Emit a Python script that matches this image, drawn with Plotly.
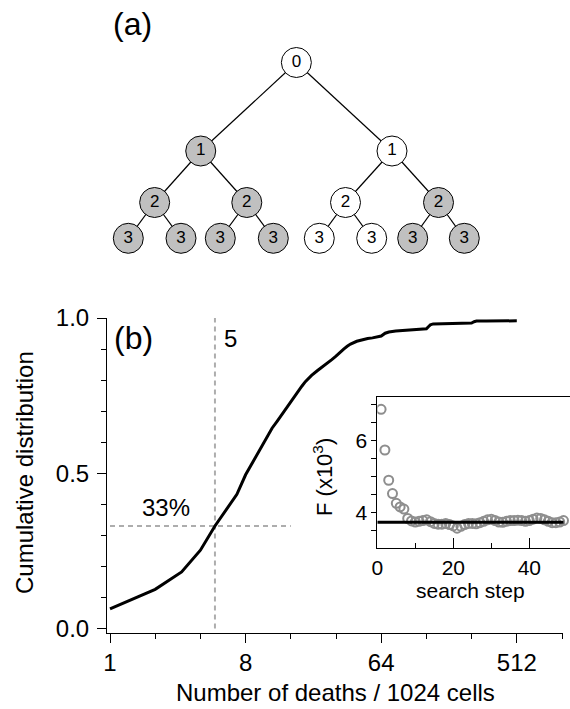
import math
import plotly.graph_objects as go

# ---------------- data ----------------
# (b) cumulative distribution of the number of deaths per 1024 cells
deaths = [1, 2, 3, 4, 5, 6, 7, 8, 9, 10, 11, 12, 13, 14, 15, 16, 17, 18, 19, 20,
          21, 22, 24, 26, 28, 30, 32, 34, 36, 38, 40, 44, 48, 52, 56, 60, 62, 64,
          68, 72, 80, 96, 112, 128, 132, 136, 142, 160, 200, 256, 266, 276, 320,
          400, 512]
cum_frac = [0.063, 0.126, 0.182, 0.252, 0.330, 0.385, 0.432, 0.495, 0.540, 0.580,
            0.615, 0.645, 0.668, 0.690, 0.712, 0.733, 0.750, 0.766, 0.781, 0.795,
            0.807, 0.815, 0.830, 0.844, 0.855, 0.866, 0.877, 0.890, 0.900, 0.909,
            0.916, 0.925, 0.930, 0.934, 0.936, 0.938, 0.939, 0.942, 0.951, 0.955,
            0.958, 0.961, 0.963, 0.965, 0.972, 0.978, 0.981, 0.982, 0.983, 0.984,
            0.988, 0.990, 0.990, 0.991, 0.991]
ref_deaths = 5
ref_frac = 0.33
ref_frac_xmax = 16

x_tick_major = [1, 8, 64, 512]
x_tick_minor = [2, 4, 16, 32, 128, 256, 1024]
y_tick_major = [0.0, 0.5, 1.0]
y_tick_minor = [0.1, 0.2, 0.3, 0.4, 0.6, 0.7, 0.8, 0.9]

# inset: objective F (x10^3) versus search step
search_step = list(range(1, 50))
F_values = [6.87, 5.74, 4.90, 4.53, 4.26, 4.16, 4.10, 3.84, 3.77, 3.74,
            3.76, 3.78, 3.80, 3.75, 3.70, 3.68, 3.68, 3.70, 3.67, 3.63,
            3.57, 3.62, 3.67, 3.70, 3.70, 3.69, 3.72, 3.76, 3.80, 3.82,
            3.78, 3.74, 3.73, 3.76, 3.78, 3.78, 3.79, 3.78, 3.76, 3.78,
            3.82, 3.85, 3.84, 3.80, 3.76, 3.72, 3.72, 3.74, 3.78]
F_best = 3.73
F_best_steps = [0, 49]

# (a) binary lineage tree, heap order; 1 = shaded cell
node_depth = [0, 1, 1, 2, 2, 2, 2, 3, 3, 3, 3, 3, 3, 3, 3]
node_shaded = [0, 1, 0, 1, 1, 0, 1, 1, 1, 1, 1, 0, 0, 1, 1]

# ---------------- page geometry (pixels) ----------------
W, H = 570, 709
FONT = "Liberation Sans, Arial, sans-serif"


def fx(p):
    return p / W


def fy(p):
    return 1 - p / H


# tree layout: leaves placed, parents centred over their children
leaf_x = [128.3, 181.0, 220.3, 273.3, 319.3, 371.7, 412.7, 464.3]
level_y = [62.5, 151.0, 202.5, 238.3]
n_nodes = len(node_depth)
node_x = [0.0] * n_nodes
for k, lx in enumerate(leaf_x):
    node_x[7 + k] = lx
for i in range(6, -1, -1):
    node_x[i] = (node_x[2 * i + 1] + node_x[2 * i + 2]) / 2
node_y = [level_y[d] for d in node_depth]

fig = go.Figure()

# ---- tree edges and nodes
for i in range(1, n_nodes):
    p = (i - 1) // 2
    fig.add_trace(go.Scatter(x=[node_x[p], node_x[i]], y=[node_y[p], node_y[i]],
                             mode="lines", line=dict(color="black", width=1.2),
                             xaxis="x3", yaxis="y3", hoverinfo="skip",
                             showlegend=False))
fig.add_trace(go.Scatter(
    x=node_x, y=node_y, mode="markers+text",
    text=[str(d) for d in node_depth], textposition="middle center",
    textfont=dict(family=FONT, size=17, color="black"),
    marker=dict(size=30, color=["#c0c0c0" if s else "white" for s in node_shaded],
                line=dict(color="black", width=1)),
    xaxis="x3", yaxis="y3", showlegend=False, hoverinfo="skip"))

# ---- panel (b)
fig.add_trace(go.Scatter(x=[ref_deaths, ref_deaths], y=[0, 1], mode="lines",
                         line=dict(color="#adadad", width=2, dash="5px,4px"),
                         showlegend=False, hoverinfo="skip"))
fig.add_trace(go.Scatter(x=[1, ref_frac_xmax], y=[ref_frac, ref_frac], mode="lines",
                         line=dict(color="#adadad", width=2, dash="5px,4px"),
                         showlegend=False, hoverinfo="skip"))
fig.add_trace(go.Scatter(x=deaths, y=cum_frac, mode="lines",
                         line=dict(color="black", width=3), showlegend=False))

# ---- inset
fig.add_trace(go.Scatter(x=search_step, y=F_values, mode="markers",
                         marker=dict(symbol="circle-open", size=9, color="#8e8e8e",
                                     line=dict(width=2)),
                         xaxis="x2", yaxis="y2", showlegend=False))
fig.add_trace(go.Scatter(x=F_best_steps, y=[F_best, F_best], mode="lines",
                         line=dict(color="black", width=3),
                         xaxis="x2", yaxis="y2", showlegend=False))

# ---------------- axes ----------------
octave = 45.2
x_left, x_right, x_one = 107, 563, 110
log_lo = (x_left - x_one) / octave * math.log10(2)
log_hi = (x_right - x_one) / octave * math.log10(2)

axis_common = dict(showgrid=False, zeroline=False, showline=True,
                   linecolor="black", linewidth=1, tickcolor="black",
                   tickwidth=1, automargin=False)

fig.update_layout(
    template="none",
    width=W, height=H, margin=dict(l=0, r=0, t=0, b=0, pad=0, autoexpand=False),
    paper_bgcolor="white", plot_bgcolor="rgba(0,0,0,0)",
    showlegend=False,
    font=dict(family=FONT, color="black"),
    xaxis=dict(domain=[fx(x_left), fx(x_right)], type="log",
               range=[log_lo, log_hi], anchor="y",
               tickmode="array", tickvals=x_tick_major,
               ticktext=[str(v) for v in x_tick_major],
               ticks="outside", ticklen=9, tickfont=dict(size=24),
               minor=dict(tickmode="array", tickvals=x_tick_minor,
                          ticks="outside", ticklen=5, tickcolor="black",
                          showgrid=False),
               **axis_common),
    yaxis=dict(domain=[fy(632.5), fy(318)], range=[-0.013, 1.0], anchor="x",
               tickmode="array", tickvals=y_tick_major,
               ticktext=["0.0", "0.5", "1.0"],
               ticks="outside", ticklen=9, tickfont=dict(size=24),
               ticklabelstandoff=3,
               minor=dict(tickmode="array", tickvals=y_tick_minor,
                          ticks="outside", ticklen=5, tickcolor="black",
                          showgrid=False),
               **axis_common),
    xaxis2=dict(domain=[fx(377.3), 1.0], range=[0, (W - 377.3) / 3.8],
                anchor="y2", mirror=True,
                tickmode="array", tickvals=[0, 20, 40],
                ticks="inside", ticklen=10, tickfont=dict(size=21),
                minor=dict(tickmode="array", tickvals=[10, 30],
                           ticks="inside", ticklen=5, tickcolor="black",
                           showgrid=False),
                **axis_common),
    yaxis2=dict(domain=[fy(548.3), fy(396.7)], range=[3.01, 7.22], anchor="x2",
                tickmode="array", tickvals=[4, 6],
                ticks="outside", ticklen=5, tickfont=dict(size=21),
                minor=dict(tickmode="array", tickvals=[3.5, 4.5, 5, 5.5, 6.5, 7],
                           ticks="outside", ticklen=5, tickcolor="black",
                           showgrid=False),
                **axis_common),
    xaxis3=dict(domain=[0, 1], range=[0, W], visible=False, anchor="y3",
                fixedrange=True, automargin=False),
    yaxis3=dict(domain=[fy(290), 1], range=[290, 0], visible=False, anchor="x3",
                fixedrange=True, automargin=False),
)

# ---------------- text ----------------
ann = [
    dict(text="(a)", x=fx(132), y=fy(24), font=dict(size=32)),
    dict(text="(b)", x=fx(133), y=fy(338), font=dict(size=32)),
    dict(text="Cumulative distribution", x=fx(24), y=fy(473), textangle=-90,
         font=dict(size=24)),
    dict(text="Number of deaths / 1024 cells", x=fx(336), y=fy(692),
         font=dict(size=24)),
    dict(text="F (x10<sup>3</sup>)", x=fx(323), y=fy(477), textangle=-90,
         font=dict(size=22)),
    dict(text="search step", x=fx(470), y=fy(590), font=dict(size=21)),
]
for a in ann:
    fig.add_annotation(xref="paper", yref="paper", showarrow=False,
                       xanchor="center", yanchor="middle", **a)

fig.add_annotation(xref="x", yref="y", x=math.log10(ref_deaths), y=0.935,
                   text="5", showarrow=False, xanchor="left", xshift=7,
                   yanchor="middle", font=dict(size=24))
fig.add_annotation(xref="x", yref="y", x=math.log10(2.36), y=0.39,
                   text="33%", showarrow=False, xanchor="center",
                   yanchor="middle", font=dict(size=24))

fig.write_html("out.html")
